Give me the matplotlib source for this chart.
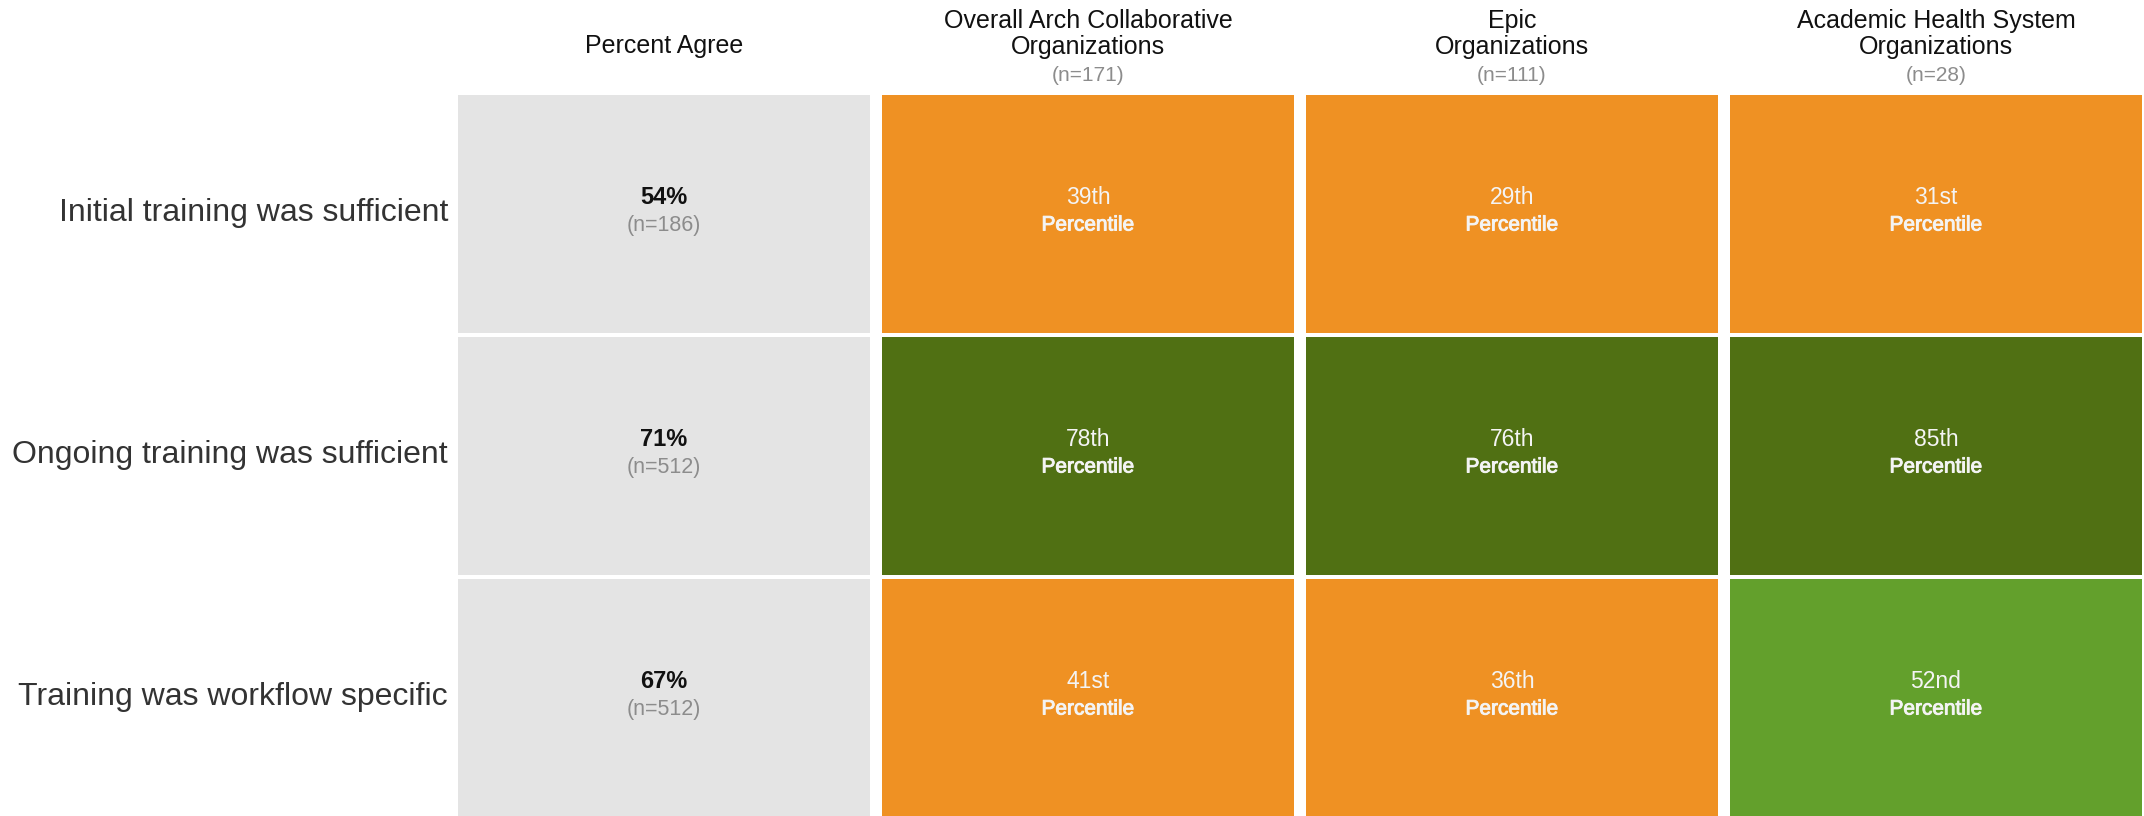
import matplotlib
matplotlib.use("Agg")
import matplotlib.pyplot as plt
import matplotlib.patheffects as pe

plt.rcParams['font.family'] = ['Liberation Sans', 'DejaVu Sans']

# data
rows = ['Initial training was sufficient',
        'Ongoing training was sufficient',
        'Training was workflow specific']
percent_agree = [54, 71, 67]
agree_n = [186, 512, 512]

groups = [['Overall Arch Collaborative', 'Organizations'],
          ['Epic', 'Organizations'],
          ['Academic Health System', 'Organizations']]
group_n = [171, 111, 28]
# percentile per group, rows in order
arch_pct = [39, 78, 41]
epic_pct = [29, 76, 36]
ahs_pct = [31, 85, 52]
percentiles = [arch_pct, epic_pct, ahs_pct]

ORANGE = '#EF9123'
DARK_GREEN = '#507013'
LIGHT_GREEN = '#63A02C'
GREY = '#E4E4E4'


def cell_color(p):
    if p >= 75:
        return DARK_GREEN
    if p >= 50:
        return LIGHT_GREEN
    return ORANGE


def ordinal(p):
    if 10 <= p % 100 <= 20:
        suf = 'th'
    else:
        suf = {1: 'st', 2: 'nd', 3: 'rd'}.get(p % 10, 'th')
    return f'{p}{suf}'


# layout (pixels)
W, H = 2144, 816
x0, y0 = 458, 95
pitch_x, pitch_y = 424, 242
cell_w, cell_h = 412 / pitch_x, 238 / pitch_y

fig = plt.figure(figsize=(W / 100, H / 100), dpi=100)
ax = fig.add_axes([0, 0, 1, 1])
ax.set_xlim(-x0 / pitch_x, (W - x0) / pitch_x)
ax.set_ylim((H - y0) / pitch_y, -y0 / pitch_y)
ax.axis('off')


def py(px):
    # pixel row -> data y
    return (px - y0) / pitch_y


ys = list(range(len(rows)))
WHITE = '#f4f4f4'
medium = [pe.withStroke(linewidth=0.7, foreground=WHITE)]

# percent agree column
ax.barh(ys, [cell_w] * len(rows), left=0, height=cell_h, align='edge',
        color=GREY, linewidth=0)
for j, (v, n) in enumerate(zip(percent_agree, agree_n)):
    yc = j + cell_h / 2
    ax.text(cell_w / 2, yc - 17 / pitch_y, f'{v}%', ha='center', va='center',
            fontsize=17, fontweight='bold', color='#111111')
    ax.text(cell_w / 2, yc + 11 / pitch_y, f'(n={n})', ha='center', va='center',
            fontsize=15.5, color='#8c8c8c')

# comparison columns
for i, vals in enumerate(percentiles):
    col = i + 1
    ax.barh(ys, [cell_w] * len(rows), left=col, height=cell_h, align='edge',
            color=[cell_color(p) for p in vals], linewidth=0)
    for j, p in enumerate(vals):
        yc = j + cell_h / 2
        ax.text(col + cell_w / 2, yc - 17 / pitch_y, ordinal(p), ha='center',
                va='center', fontsize=16.5, color=WHITE)
        ax.text(col + cell_w / 2, yc + 11 / pitch_y, 'Percentile', ha='center',
                va='center', fontsize=15, color=WHITE, path_effects=medium)

# row labels
for j, lab in enumerate(rows):
    ax.text(-10 / pitch_x, j + cell_h / 2 - 1 / pitch_y, lab, ha='right',
            va='center', fontsize=23, color='#333333')

# headers
ax.text(cell_w / 2, py(46), 'Percent Agree', ha='center', va='center',
        fontsize=18, color='#111111')
for i, (lines, n) in enumerate(zip(groups, group_n)):
    xc = i + 1 + cell_w / 2
    ax.text(xc, py(21), lines[0], ha='center', va='center', fontsize=18,
            color='#111111')
    ax.text(xc, py(47), lines[1], ha='center', va='center', fontsize=18,
            color='#111111')
    ax.text(xc, py(75), f'(n={n})', ha='center', va='center', fontsize=15,
            color='#8c8c8c')

fig.savefig('out.png', dpi=100)
